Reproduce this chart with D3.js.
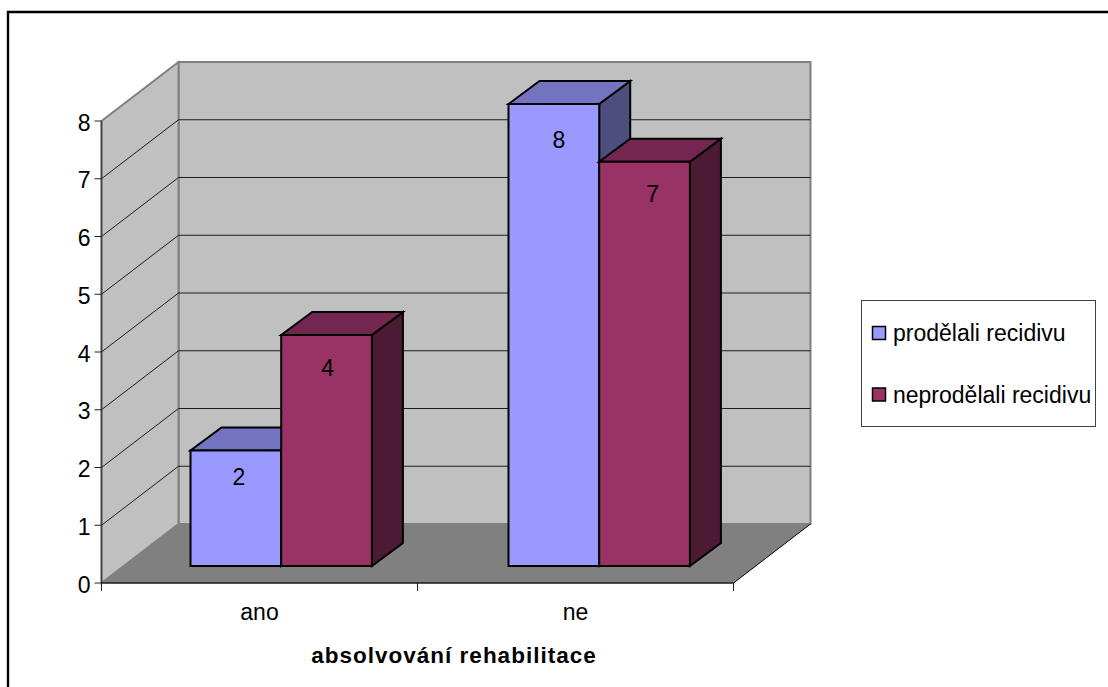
<!DOCTYPE html>
<html>
<head>
<meta charset="utf-8">
<script src="https://cdn.jsdelivr.net/npm/d3@7"></script>
<style>
html, body { margin: 0; padding: 0; background: #fff; overflow: hidden; }
svg { display: block; }
text { font-family: "Liberation Sans", Arial, sans-serif; fill: #000; }
</style>
</head>
<body>
<svg id="chart" width="1108" height="687"></svg>
<script>
// Values
const categories = ["ano", "ne"];
const seriesNames = ["prodělali recidivu", "neprodělali recidivu"];
const prodelali = [2, 8];
const neprodelali = [4, 7];
const yTicks = [0, 1, 2, 3, 4, 5, 6, 7, 8];
const axisTitle = "absolvování rehabilitace";

// Colours per series: front, top and side face
const faceColours = [
  { front: "#9999ff", top: "#7373bf", side: "#4d4d80" },
  { front: "#993366", top: "#732650", side: "#4d1a33" }
];

// Hand-placed value labels, nudged from the centre and top of each bar's front face
const labelNudge = {
  "ano-0": [3, 34], "ano-1": [1, 41],
  "ne-0": [5, 44], "ne-1": [8, 40]
};

const svg = d3.select("#chart");
const line = d3.line();

// Frame: left and top rules run off the edge of the page
svg.append("path").attr("fill", "none").attr("stroke", "#000").attr("stroke-width", 2.4)
  .attr("d", line([[8, 687], [8, 12], [1108, 12]]));

// Oblique projection: front floor edge at depth 0, back wall at depth 1
const left = 101.5, right = 733.5, y0 = 583, y8 = 121;
const depthX = 77, depthY = -59;
const x = d3.scaleBand().domain(categories).range([left, right]);
const y = d3.scaleLinear().domain([0, 8]).range([y0, y8]);
const px = (vx, d) => vx + d * depthX;
const py = (v, d) => y(v) + d * depthY;

const g = svg.append("g");

// Back wall
g.append("path")
  .attr("d", line([[px(left,1),py(8,1)],[px(right,1),py(8,1)],[px(right,1),py(0,1)],[px(left,1),py(0,1)]]) + "Z")
  .attr("fill", "#c0c0c0").attr("stroke", "#808080").attr("stroke-width", 2);
// Side wall
g.append("path")
  .attr("d", line([[px(left,0),py(8,0)],[px(left,1),py(8,1)],[px(left,1),py(0,1)],[px(left,0),py(0,0)]]) + "Z")
  .attr("fill", "#c0c0c0").attr("stroke", "#808080").attr("stroke-width", 2);
// Floor
g.append("path")
  .attr("d", line([[px(left,0),py(0,0)],[px(right,0),py(0,0)],[px(right,1),py(0,1)],[px(left,1),py(0,1)]]) + "Z")
  .attr("fill", "#808080");

// Gridlines on both walls
g.selectAll(".grid").data(yTicks.filter(t => t > 0 && t < 8)).join("path")
  .attr("fill", "none").attr("stroke", "#1c1c1c").attr("stroke-width", 1)
  .attr("d", t => line([[px(left,0),py(t,0)],[px(left,1),py(t,1)],[px(right,1),py(t,1)]]));

// Floor edge on the right
g.append("path").attr("fill", "none").attr("stroke", "#000").attr("stroke-width", 1)
  .attr("d", line([[px(right,0),py(0,0)],[px(right,1),py(0,1)]]));

// Bars stand between a front and a rear depth on the floor
const barBand = d3.scaleBand().domain(categories).range([left - 0.5, left + 635.5]);
const barInset = 67.5, barW = 90.7;
const frontShift = [22, -17], rearShift = [53, -40];

function drawBar(cat, s, v) {
  const xa = barBand(cat) + barInset + s * barW;
  const xb = xa + barW;
  const at = (vx, val, shift) => [vx + shift[0], y(val) + shift[1]];
  const col = faceColours[s];
  const grp = g.append("g").attr("stroke", "#000").attr("stroke-width", 2);
  grp.append("path").attr("fill", col.side)
    .attr("d", line([at(xb,v,frontShift),at(xb,v,rearShift),at(xb,0,rearShift),at(xb,0,frontShift)]) + "Z");
  grp.append("path").attr("fill", col.top)
    .attr("d", line([at(xa,v,frontShift),at(xb,v,frontShift),at(xb,v,rearShift),at(xa,v,rearShift)]) + "Z");
  grp.append("path").attr("fill", col.front)
    .attr("d", line([at(xa,v,frontShift),at(xb,v,frontShift),at(xb,0,frontShift),at(xa,0,frontShift)]) + "Z");
  const nudge = labelNudge[`${cat}-${s}`];
  return { x: xa + barW / 2 + frontShift[0] + nudge[0], y: y(v) + frontShift[1] + nudge[1], v };
}

const labels = [];
categories.forEach((c, i) => {
  [prodelali[i], neprodelali[i]].forEach((v, s) => labels.push(drawBar(c, s, v)));
});
g.selectAll(".val").data(labels).join("text")
  .attr("x", d => d.x).attr("y", d => d.y)
  .attr("text-anchor", "middle").attr("font-size", 23)
  .text(d => d.v);

// Axis lines and ticks
g.append("path").attr("fill", "none").attr("stroke", "#404040").attr("stroke-width", 1.5)
  .attr("d", line([[left,y8],[left,y0]]));
g.append("path").attr("fill", "none").attr("stroke", "#1a1a1a").attr("stroke-width", 1.5)
  .attr("d", line([[left,y0],[right,y0]]));
g.selectAll(".ytick").data(yTicks).join("path")
  .attr("stroke", "#222").attr("stroke-width", 1)
  .attr("d", t => line([[left - 7, y(t)],[left, y(t)]]));
g.selectAll(".xtick").data(d3.range(categories.length + 1)).join("path")
  .attr("stroke", "#222").attr("stroke-width", 1)
  .attr("d", i => { const xv = left + i * x.step(); return line([[xv, y0],[xv, y0 + 8]]); });

g.selectAll(".ylab").data(yTicks).join("text")
  .attr("x", 90.5).attr("y", t => y(t) + 9.5).attr("text-anchor", "end")
  .attr("font-size", 23).text(t => t);
g.selectAll(".xlab").data(categories).join("text")
  .attr("x", c => x(c) + x.bandwidth() / 2).attr("y", 620).attr("text-anchor", "middle")
  .attr("font-size", 23).text(c => c);

g.append("text").attr("x", 454).attr("y", 663).attr("text-anchor", "middle")
  .attr("font-size", 22.5).attr("font-weight", "bold").attr("letter-spacing", 1).text(axisTitle);

// Legend
const legend = svg.append("g");
legend.append("rect").attr("x", 861.5).attr("y", 300.5).attr("width", 234).attr("height", 126)
  .attr("fill", "#fff").attr("stroke", "#404040").attr("stroke-width", 1);
seriesNames.forEach((name, i) => {
  const cy = 333 + i * 61.5;
  legend.append("rect").attr("x", 872.5).attr("y", cy - 6.5).attr("width", 13).attr("height", 13)
    .attr("fill", faceColours[i].front).attr("stroke", "#000").attr("stroke-width", 1.5);
  legend.append("text").attr("x", 893).attr("y", cy + 8).attr("font-size", 23).text(name);
});
</script>
</body>
</html>
